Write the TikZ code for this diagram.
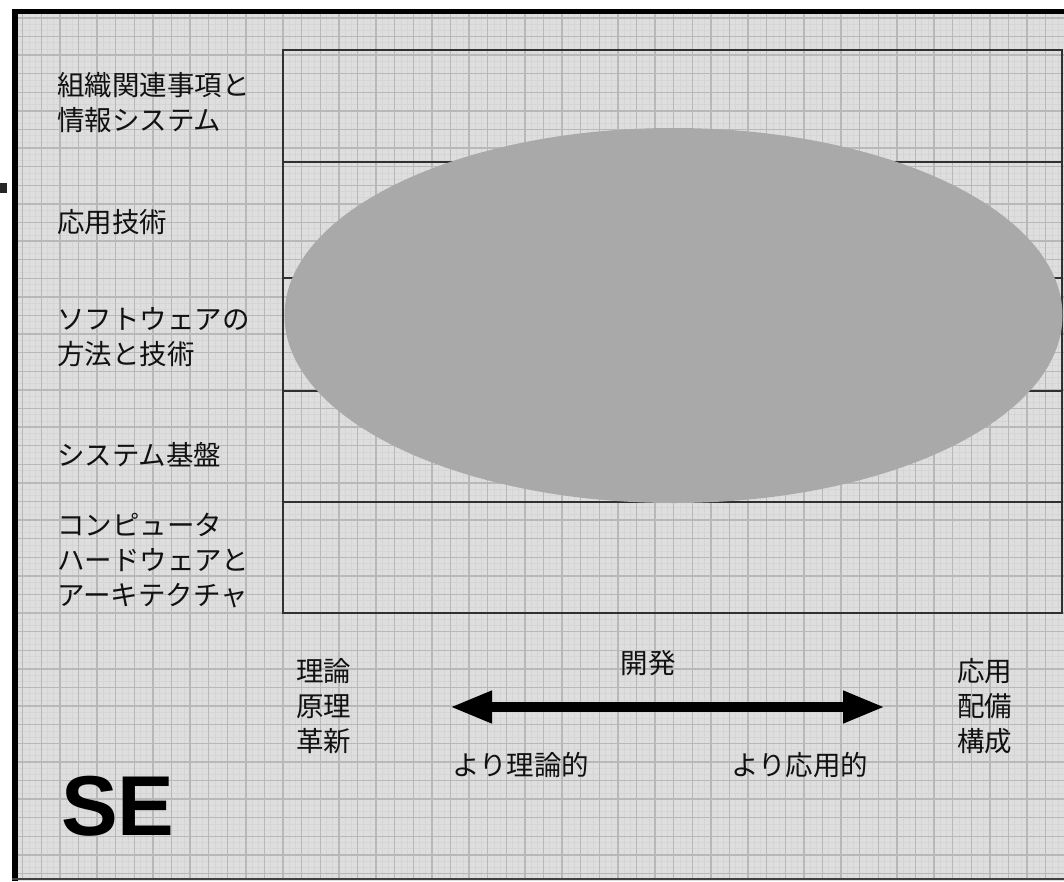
\documentclass[tikz,border=0pt]{standalone}
\usepackage{fontspec}
\newfontfamily\jpfont{Noto Sans CJK JP}
\newfontfamily\sefont{Liberation Sans}
\usetikzlibrary{arrows.meta}
\definecolor{gridbg}{HTML}{DEDEDE}
\definecolor{gridmajor}{HTML}{B8B8B8}
\definecolor{gridminor}{HTML}{D5D5D5}
\definecolor{boxline}{HTML}{303030}
\definecolor{ellfill}{HTML}{A9A9A9}
\definecolor{txt}{HTML}{111111}
\tikzset{
  rowtext/.style={anchor=west, inner sep=0pt, align=left, text=txt,
    font=\jpfont\fontsize{27.5}{35}\selectfont},
  axistext/.style={inner sep=0pt, align=left, text=txt,
    font=\jpfont\fontsize{27.5}{35}\selectfont},
  rowline/.style={draw=boxline, line width=1.6pt},
}
\begin{document}
\begin{tikzpicture}[x=1pt,y=-1pt]
\useasboundingbox (0,0) rectangle (1064,881);
\fill[white] (0,0) rectangle (1064,881);
% small mark outside the frame
\fill[black!85] (0,183) rectangle (7,193);
% frame background
\fill[gridbg] (12,9) rectangle (1064,881);
\begin{scope}
\clip (18,14) rectangle (1064,878);
\foreach \i in {0,...,170} {
  \draw[gridminor, line width=0.5pt] (4.1+6.2*\i,0) -- (4.1+6.2*\i,881);
}
\foreach \j in {0,...,142} {
  \draw[gridminor, line width=0.5pt] (0,-0.7+6.2*\j) -- (1064,-0.7+6.2*\j);
}
\foreach \i in {0,...,57} {
  \draw[gridmajor, line width=1.3pt] (4.1+18.6*\i,0) -- (4.1+18.6*\i,881);
}
\foreach \j in {0,...,47} {
  \draw[gridmajor, line width=1.3pt] (0,-0.7+18.6*\j) -- (1064,-0.7+18.6*\j);
}
\end{scope}
% frame borders
\fill[black] (12,9) rectangle (18,881);
\fill[black] (12,9) rectangle (1064,14);
\draw[black!75, line width=2pt] (12,879) -- (1064,879);
% rows
\draw[rowline] (283,50) rectangle (1062,613);
\foreach \y in {162,278,391,502} { \draw[rowline] (283,\y) -- (1062,\y); }
% ellipse
\fill[ellfill] (673.5,315.5) ellipse [x radius=389, y radius=187.5];
% row labels
\node[rowtext] (r1) at (57,102.5) {組織関連事項と\\情報システム};
\node[rowtext] (r2) at (57,222) {応用技術};
\node[rowtext] (r3) at (57,337.5) {ソフトウェアの\\方法と技術};
\node[rowtext] (r4) at (57,455) {システム基盤};
\node[rowtext] (r5) at (57,561) {コンピュータ\\ハードウェアと\\アーキテクチャ};
% axis labels
\node[axistext, anchor=west] (theory) at (296,706) {理論\\原理\\革新};
\node[axistext, anchor=west] (apply) at (957,706) {応用\\配備\\構成};
\node[axistext] (dev) at (648,663) {開発};
\node[axistext, anchor=west] (moreT) at (452,765) {より理論的};
\node[axistext, anchor=west] (moreA) at (731,765) {より応用的};
% arrow
\coordinate (aL) at (450,707);
\coordinate (aR) at (885,707);
\draw[black, line width=10pt, {Triangle[length=42pt,width=30pt]}-{Triangle[length=42pt,width=30pt]}] (aL) -- (aR);
% SE
\node[anchor=base west, inner sep=0pt, text=black, font=\sefont\bfseries\fontsize{85}{90}\selectfont] (se) at (61,835) {SE};
\end{tikzpicture}
\end{document}
